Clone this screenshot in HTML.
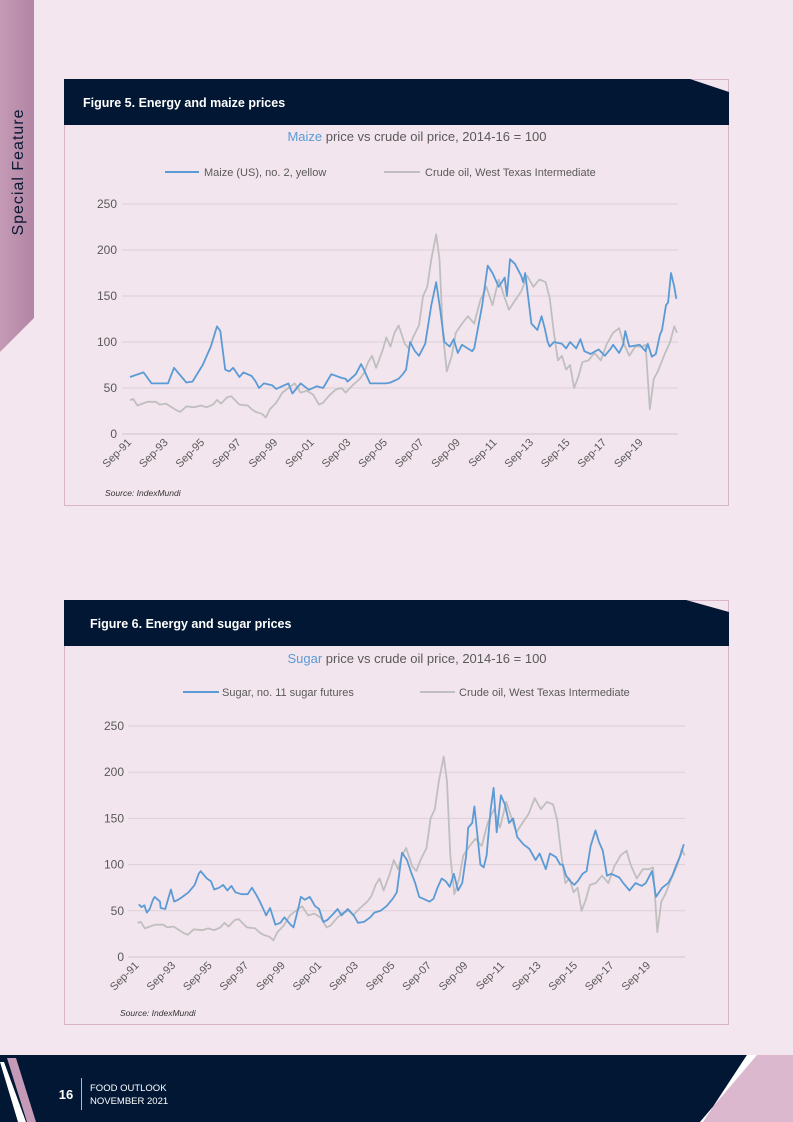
<!DOCTYPE html>
<html><head><meta charset="utf-8"><style>
html,body{margin:0;padding:0;background:#f4e6ee;}
svg{display:block;font-family:"Liberation Sans",sans-serif;}
</style></head><body>
<svg id="page" width="793" height="1122" viewBox="0 0 793 1122">
<defs><linearGradient id="sb" x1="0" y1="0" x2="1" y2="0"><stop offset="0" stop-color="#c49ab6"/><stop offset="1" stop-color="#b185a3"/></linearGradient></defs>
<rect width="793" height="1122" fill="#f4e6ee"/>
<g>
<polygon points="0,0 34,0 34,318 0,352" fill="url(#sb)"/>
<text transform="translate(23,172) rotate(-90)" text-anchor="middle" font-size="16" letter-spacing="1" fill="#0b1834">Special Feature</text>
</g>
<g>
<rect x="64.5" y="79.5" width="664" height="426" fill="#f3e5ed" stroke="#d8b4ca"/>
<polygon points="64,79 690,79 729,92 729,125 64,125" fill="#011733"/>
<text x="83" y="107" font-size="12.5" font-weight="bold" fill="#fff">Figure 5. Energy and maize prices</text>
<text x="417" y="141" text-anchor="middle" font-size="13" fill="#595959"><tspan fill="#5b9bd5">Maize</tspan> price vs crude oil price, 2014-16 = 100</text>
<line x1="165" y1="172" x2="199" y2="172" stroke="#5b9bd5" stroke-width="2"/>
<text x="204" y="176" font-size="11" fill="#595959">Maize (US), no. 2, yellow</text>
<line x1="384" y1="172" x2="420" y2="172" stroke="#bfbfbf" stroke-width="2"/>
<text x="425" y="176" font-size="11" fill="#595959">Crude oil, West Texas Intermediate</text>
<g id="chart1"></g>
<text x="105" y="496" font-size="8.5" font-style="italic" fill="#333">Source: IndexMundi</text>
</g>
<g>
<rect x="64.5" y="600.5" width="664" height="424" fill="#f3e5ed" stroke="#d8b4ca"/>
<polygon points="64,600 686,600 729,612 729,646 64,646" fill="#011733"/>
<text x="90" y="628" font-size="12.5" font-weight="bold" fill="#fff">Figure 6. Energy and sugar prices</text>
<text x="417" y="663" text-anchor="middle" font-size="13" fill="#595959"><tspan fill="#5b9bd5">Sugar</tspan> price vs crude oil price, 2014-16 = 100</text>
<line x1="183" y1="692" x2="219" y2="692" stroke="#5b9bd5" stroke-width="2"/>
<text x="222" y="696" font-size="11" fill="#595959">Sugar, no. 11 sugar futures</text>
<line x1="420" y1="692" x2="455" y2="692" stroke="#bfbfbf" stroke-width="2"/>
<text x="459" y="696" font-size="11" fill="#595959">Crude oil, West Texas Intermediate</text>
<g id="chart2"></g>
<text x="120" y="1016" font-size="8.5" font-style="italic" fill="#333">Source: IndexMundi</text>
</g>
<g>
<polygon points="0,1055 757,1055 700,1122 0,1122" fill="#011733"/>
<polygon points="747,1055 793,1055 793,1122 703,1122" fill="#dcb8cf"/>
<polygon points="757,1055 747,1055 703,1122 700,1122" fill="#fff"/>
<polygon points="0,1062 4,1062 26,1122 18,1122" fill="#fff"/>
<polygon points="7,1058 16,1058 36,1122 27,1122" fill="#c49ab6"/>
<text x="66" y="1099" font-size="13" font-weight="bold" fill="#fff" text-anchor="middle">16</text>
<line x1="81.5" y1="1078" x2="81.5" y2="1110" stroke="#fff" stroke-width="0.7"/>
<text x="90" y="1091" font-size="9.5" fill="#fff">FOOD OUTLOOK</text>
<text x="90" y="1104" font-size="9.5" fill="#fff">NOVEMBER 2021</text>
</g>
</svg>
<script>
// years since Sep-1991 and index values (2014-16 = 100)
const yTicks = [0, 50, 100, 150, 200, 250];
const xTickLabels = ["Sep-91","Sep-93","Sep-95","Sep-97","Sep-99","Sep-01","Sep-03","Sep-05","Sep-07","Sep-09","Sep-11","Sep-13","Sep-15","Sep-17","Sep-19"];
const maizeT = [0,.74,1.18,2.08,2.41,3.08,3.42,3.98,4.42,4.76,4.94,5.21,5.43,5.65,5.99,6.21,6.66,6.88,7.06,7.33,7.78,8.0,8.67,8.89,9.34,9.79,10.23,10.57,11.02,11.58,11.8,11.91,12.36,12.65,12.8,13.14,14.03,14.26,14.7,14.93,15.11,15.26,15.33,15.6,15.82,16.16,16.49,16.76,16.98,17.21,17.5,17.72,17.94,18.17,18.73,18.84,19.28,19.58,19.84,20.18,20.51,20.63,20.8,21.07,21.41,21.52,21.63,21.97,22.3,22.53,22.7,22.86,22.97,23.2,23.64,23.87,24.09,24.42,24.65,24.87,25.21,25.65,25.99,26.32,26.44,26.77,26.99,27.11,27.33,27.89,28.22,28.34,28.56,28.78,29.01,29.12,29.34,29.45,29.61,29.79,29.9];
const maizeV = [62,67,55,55,72,56,57,75,95,117,112,70,68,72,62,67,63,57,50,55,53,49,55,44,55,48,52,50,65,61,60,57,65,76,70,55,55,56,60,65,70,90,100,90,85,98,140,165,135,100,95,103,88,97,90,93,140,183,175,160,170,150,190,185,172,165,175,120,113,128,115,100,95,100,98,93,100,93,103,90,87,92,85,93,97,88,97,112,95,97,90,98,84,87,108,113,140,143,175,160,147];
const crudeT = [0,.18,.4,.96,1.41,1.63,1.97,2.53,2.75,3.08,3.53,3.87,4.2,4.54,4.76,4.98,5.32,5.54,5.99,6.44,6.66,6.88,7.22,7.44,7.66,8.0,8.34,8.67,9.01,9.34,9.68,10.01,10.35,10.57,10.91,11.24,11.58,11.8,12.13,12.58,12.8,13.03,13.25,13.47,13.81,14.03,14.26,14.48,14.7,15.04,15.26,15.49,15.82,16.04,16.27,16.49,16.76,16.94,17.12,17.34,17.61,17.83,18.17,18.5,18.84,19.17,19.51,19.84,20.18,20.51,20.74,21.07,21.41,21.74,22.08,22.41,22.75,22.97,23.2,23.42,23.64,23.87,24.09,24.31,24.54,24.76,25.09,25.43,25.77,26.1,26.44,26.77,26.99,27.33,27.66,28.0,28.22,28.45,28.67,28.89,29.23,29.56,29.79,29.94];
const crudeV = [37,38,31,35,35,32,33,26,24,30,29,31,29,32,37,33,40,41,32,31,27,24,22,18,27,34,45,50,55,45,47,43,32,34,42,48,50,45,52,60,66,78,85,72,90,105,95,110,118,98,93,105,118,150,160,190,217,190,110,68,85,110,120,128,120,145,160,140,168,148,135,145,155,172,160,168,165,148,110,80,85,70,75,50,62,78,80,88,80,98,110,115,100,85,95,95,97,27,60,68,85,100,117,110];
const sugarT = [.07,.22,.38,.51,.67,.85,.94,1.23,1.27,1.52,1.68,1.83,2.01,2.23,2.46,2.79,3.13,3.35,3.46,3.58,3.8,4.02,4.2,4.47,4.69,4.92,5.14,5.36,5.7,6.03,6.26,6.48,6.7,6.93,7.04,7.26,7.55,7.82,8.04,8.38,8.54,8.83,8.94,9.16,9.43,9.72,9.94,10.17,10.39,10.73,10.95,11.17,11.51,11.84,12.07,12.4,12.74,12.96,13.3,13.63,13.97,14.19,14.48,14.75,14.97,15.2,15.42,15.75,15.98,16.2,16.42,16.65,16.87,17.09,17.32,17.54,17.77,17.99,18.1,18.32,18.44,18.59,18.77,18.95,19.11,19.33,19.49,19.66,19.89,20.11,20.34,20.56,20.78,21.12,21.45,21.79,22.01,22.35,22.57,22.91,23.13,23.28,23.46,23.69,23.91,24.13,24.36,24.58,24.8,25.07,25.25,25.47,25.7,25.92,26.37,26.59,26.93,27.26,27.6,27.82,28.16,28.38,28.72,29.05,29.27,29.5,29.72,29.9];
const sugarV = [57,54,56,48,52,62,65,60,53,52,63,73,60,62,65,70,78,90,93,90,85,82,73,75,78,72,77,70,68,68,75,68,60,50,45,53,35,37,43,35,32,55,65,62,65,55,52,38,40,47,52,45,52,45,37,38,43,48,50,55,63,70,113,105,92,80,65,62,60,63,75,85,82,76,90,72,80,110,140,145,163,135,100,97,110,160,183,135,175,165,145,150,130,122,117,105,112,95,112,108,100,100,88,82,78,83,90,93,120,137,125,115,88,90,86,80,72,80,77,80,93,65,75,80,88,100,110,122];

const NS = "http://www.w3.org/2000/svg";
function mk(tag, attrs, parent){const e=document.createElementNS(NS,tag);for(const k in attrs)e.setAttribute(k,attrs[k]);parent.appendChild(e);return e;}

function drawChart(g, geo, blueT, blueV, blueName){
  const xs = t => geo.x0 + t * geo.pxYr;
  const ys = v => geo.yBase - v * geo.pxUnit;
  yTicks.forEach(v=>{
    const ln = mk("line",{x1:geo.gx1,x2:geo.gx2,y1:ys(v),y2:ys(v),stroke:v===0?"#d0c4cc":"#dcd0d8","stroke-width":1},g);
    
    
    const tx = mk("text",{x:geo.labX,y:ys(v)+4,"text-anchor":"end","font-size":12,fill:"#595959"},g);
    tx.textContent = v;
    
    
  });
  xTickLabels.forEach((lab,i)=>{
    const x = xs(i*2);
    const tx = mk("text",{transform:`translate(${x+2},${geo.yBase+9}) rotate(-45)`,"text-anchor":"end","font-size":11,fill:"#595959"},g);
    tx.textContent = lab;
    
    
  });
  const cp = mk("polyline",{points:crudeT.map((t,i)=>xs(t).toFixed(1)+","+ys(crudeV[i]).toFixed(1)).join(" "),fill:"none",stroke:"#bfbfbf","stroke-width":1.8,"stroke-linejoin":"round"},g);
  
  
  const bp = mk("polyline",{points:blueT.map((t,i)=>xs(t).toFixed(1)+","+ys(blueV[i]).toFixed(1)).join(" "),fill:"none",stroke:"#5b9bd5","stroke-width":1.8,"stroke-linejoin":"round"},g);
  
  
}
drawChart(document.getElementById("chart1"),{x0:130,pxYr:18.27,yBase:434,pxUnit:0.92,gx1:122,gx2:678,labX:117},maizeT,maizeV,"maize-line");
drawChart(document.getElementById("chart2"),{x0:137.5,pxYr:18.27,yBase:957,pxUnit:0.924,gx1:128,gx2:685,labX:124},sugarT,sugarV,"sugar-line");
</script>
</body></html>
